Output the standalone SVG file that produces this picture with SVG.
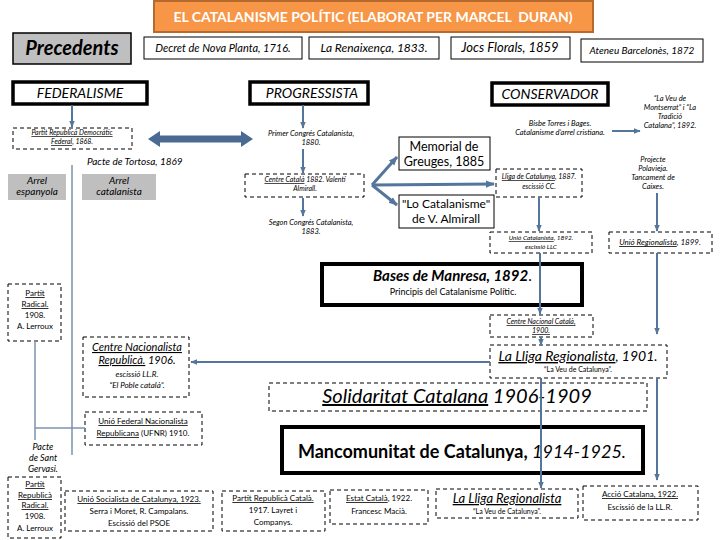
<svg xmlns="http://www.w3.org/2000/svg" width="720" height="540" viewBox="0 0 720 540">
<style>
text{font-family:Lato,"Liberation Sans",sans-serif;fill:#000}
.it{font-style:italic}
.b{font-weight:bold}
.u{text-decoration:underline}
.m{text-anchor:middle}
.box{fill:#fff;stroke:#000;stroke-width:1}
.dash{fill:#fff;stroke:#000;stroke-width:1;stroke-dasharray:4 3}
.thick{fill:#fff;stroke:#000;stroke-width:4}
.gray{fill:#BFBFBF}
.conn{stroke:#55769C;stroke-width:2;fill:none}
.fan{stroke:#55769C;stroke-width:3;fill:none}
.t8{font-size:8px}
.t75{font-size:7.5px}
.t7{font-size:7px}
</style>
<defs>
<marker id="ah" viewBox="0 0 10 10" refX="9" refY="5" markerWidth="7" markerHeight="7" markerUnits="userSpaceOnUse" orient="auto"><path d="M0,1 L10,5 L0,9 z" fill="#55769C"/></marker>
<marker id="ah2" viewBox="0 0 10 10" refX="9" refY="5" markerWidth="9" markerHeight="9" markerUnits="userSpaceOnUse" orient="auto"><path d="M0,1 L10,5 L0,9 z" fill="#55769C"/></marker>
</defs>

<g id="title"><rect x="154" y="1" width="439" height="31" fill="#F79646" stroke="#B66A2E" stroke-width="2"/><text x="373" y="22" font-size="14" class="b m" style="fill:#fff">EL CATALANISME POLÍTIC (ELABORAT PER MARCEL&#160; DURAN)</text></g>
<g id="precedents"><rect x="13" y="33" width="118" height="31" fill="#BFBFBF" stroke="#000" stroke-width="1.5"/><text x="72" y="55" font-size="20" class="b it m">Precedents</text></g>
<g id="decret"><rect class="box" x="144" y="37" width="158" height="22"/><text x="223" y="52" font-size="11" class="it m">Decret de Nova Planta, 1716.</text></g>
<g id="renaixenca"><rect class="box" x="309" y="37" width="130" height="22"/><text x="374" y="52" font-size="12" class="it m">La Renaixença, 1833.</text></g>
<g id="jocs"><rect class="box" x="451" y="37" width="119" height="22"/><text x="510" y="52" font-size="13" class="it m">Jocs Florals, 1859</text></g>
<g id="ateneu"><rect class="box" x="581" y="39" width="122" height="23"/><text x="642" y="54" font-size="10" class="it m">Ateneu Barcelonès, 1872</text></g>

<g id="federalisme"><rect class="thick" x="13" y="82" width="134" height="22" style="stroke-width:3.5"/><text x="80" y="98" font-size="14" class="it m">FEDERALISME</text></g>
<g id="progressista"><rect class="thick" x="250" y="82" width="118" height="22" style="stroke-width:3.5"/><text x="312" y="98" font-size="14" class="it m">PROGRESSISTA</text></g>
<g id="conservador"><rect class="thick" x="492" y="83" width="116" height="22" style="stroke-width:3.5"/><text x="550" y="99" font-size="14" class="it m">CONSERVADOR</text></g>

<g id="prdf"><rect class="dash" x="13" y="128" width="119" height="21"/><text x="72" y="135" class="t7 it m"><tspan class="u">Partit Republicà Democràtic</tspan><tspan x="72" dy="9"><tspan class="u">Federal</tspan>, 1868.</tspan></text></g>
<g id="primer"><text x="311" y="136" class="t75 it m">Primer Congrés Catalanista,<tspan x="311" dy="9">1880.</tspan></text></g>
<g id="tortosa"><text x="87" y="165" font-size="10" class="it">Pacte de Tortosa, 1869</text></g>
<g id="espanyola"><rect class="gray" x="8" y="174" width="58" height="26"/><text x="37" y="184" font-size="10" class="it m">Arrel<tspan x="37" dy="11">espanyola</tspan></text></g>
<g id="catalanista"><rect class="gray" x="82" y="174" width="74" height="26"/><text x="119" y="184" font-size="10" class="it m">Arrel<tspan x="119" dy="11">catalanista</tspan></text></g>
<g id="centrecatala"><rect class="dash" x="245" y="174" width="119" height="23"/><text x="305" y="182" class="t7 it m"><tspan class="u">Centre Català</tspan> 1882. Valentí<tspan x="305" dy="9">Almirall.</tspan></text></g>
<g id="segon"><text x="311" y="225" class="t75 it m">Segon Congrés Catalanista,<tspan x="311" dy="9">1883.</tspan></text></g>
<g id="memorial"><rect class="box" x="399" y="137" width="91" height="33"/><text x="444" y="151" font-size="12.5" class="m">Memorial de<tspan x="444" dy="15">Greuges, 1885</tspan></text></g>
<g id="locatalanisme"><rect class="box" x="399" y="195" width="95" height="33"/><text x="446" y="208" font-size="12" class="m">"Lo Catalanisme"<tspan x="446" dy="14.5">de V. Almirall</tspan></text></g>
<g id="lligacat"><rect class="dash" x="496" y="169" width="86" height="28"/><text x="539" y="179" class="t7 it m"><tspan class="u">Lliga de Catalunya</tspan>, 1887.<tspan x="539" dy="10">escissió CC.</tspan></text></g>
<g id="bisbe"><text x="560" y="126" class="t75 it m">Bisbe Torres i Bages.<tspan x="560" dy="9">Catalanisme d’arrel cristiana.</tspan></text></g>
<g id="laveu"><text x="670" y="101" class="t75 it m">“La Veu de<tspan x="670" dy="9">Montserrat” i “La</tspan><tspan x="670" dy="9">Tradició</tspan><tspan x="670" dy="9">Catalana”, 1892.</tspan></text></g>
<g id="projecte"><text x="653" y="162" class="t75 it m">Projecte<tspan x="653" dy="9">Polavieja.</tspan><tspan x="653" dy="9">Tancament de</tspan><tspan x="653" dy="9">Caixes.</tspan></text></g>
<g id="uniocatalanista"><rect class="dash" x="490" y="232" width="102" height="21"/><text x="541" y="240" font-size="6.5" class="it m"><tspan class="u">Unió Catalanista</tspan>, 1892.<tspan x="541" dy="9">escissió LLC</tspan></text></g>
<g id="unioregionalista"><rect class="dash" x="609" y="232" width="103" height="21"/><text x="660" y="245" class="t8 it m"><tspan class="u">Unió Regionalista</tspan>, 1899.</text></g>
<g id="bases"><rect class="thick" x="322" y="264" width="260" height="41"/><text x="373" y="281" font-size="15"><tspan class="b it">Bases de Manresa, 1892</tspan>.</text><text x="453" y="295" font-size="9" class="m">Principis del Catalanisme Polític.</text></g>
<g id="radical1"><rect class="dash" x="8" y="284" width="53" height="57"/><text x="35" y="296" class="t8 m"><tspan class="u">Partit</tspan><tspan x="35" dy="11" class="u">Radical.</tspan><tspan x="35" dy="11">1908.</tspan><tspan x="35" dy="11">A. Lerroux</tspan></text></g>
<g id="centrenacional"><rect class="dash" x="490" y="315" width="103" height="22"/><text x="541" y="324" class="t7 it m"><tspan class="u">Centre Nacional Català,</tspan><tspan x="541" dy="9" class="u">1900.</tspan></text></g>
<g id="cnr"><rect class="dash" x="83" y="337" width="106" height="60"/><text x="137" y="351" font-size="11" class="it m"><tspan class="u">Centre Nacionalista</tspan><tspan x="137" dy="13"><tspan class="u">Republicà.</tspan> 1906.</tspan></text><text x="137" y="377" class="t8 it m">escissió LL.R.<tspan x="137" dy="11">“El Poble català”.</tspan></text></g>
<g id="lliga1901"><rect class="dash" x="490" y="345" width="177" height="33"/><text x="578" y="361" font-size="14" class="it m"><tspan class="u">La Lliga Regionalista</tspan>, 1901.</text><text x="578" y="372" class="t7 m">“La Veu de Catalunya”.</text></g>
<g id="solidaritat"><rect class="dash" x="269" y="383" width="378" height="28"/><text x="457" y="403" font-size="20" class="it m"><tspan class="u">Solidaritat Catalana</tspan> 1906-1909</text></g>
<g id="ufnr"><rect class="dash" x="85" y="412" width="117" height="33"/><text x="143" y="424" class="t8 m"><tspan class="u">Unió Federal Nacionalista</tspan><tspan x="143" dy="12"><tspan class="u">Republicana</tspan> (UFNR) 1910.</tspan></text></g>
<g id="santgervasi"><text x="43" y="450" font-size="9" class="it m">Pacte<tspan x="43" dy="11">de Sant</tspan><tspan x="43" dy="11">Gervasi.</tspan></text></g>
<g id="mancomunitat"><rect class="thick" x="282" y="427" width="361" height="46"/><text x="462" y="458" font-size="18" class="m"><tspan class="b">Mancomunitat de Catalunya, </tspan><tspan class="it">1914-1925.</tspan></text></g>
<g id="radical2"><rect class="dash" x="8" y="477" width="53" height="61"/><text x="35" y="487" class="t8 m"><tspan class="u">Partit</tspan><tspan x="35" dy="11" class="u">Republicà</tspan><tspan x="35" dy="10" class="u">Radical.</tspan><tspan x="35" dy="11">1908.</tspan><tspan x="35" dy="12">A. Lerroux</tspan></text></g>
<g id="usc"><rect class="dash" x="65" y="491" width="148" height="40"/><text x="139" y="502" class="t8 m"><tspan class="u">Unió Socialista de Catalunya, 1923.</tspan><tspan x="139" dy="12">Serra i Moret, R. Campalans.</tspan><tspan x="139" dy="12">Escissió del PSOE</tspan></text></g>
<g id="prc"><rect class="dash" x="222" y="491" width="103" height="40"/><text x="273" y="501" class="t8 m"><tspan class="u">Partit Republicà Català.</tspan><tspan x="273" dy="12">1917. Layret i</tspan><tspan x="273" dy="12">Companys.</tspan></text></g>
<g id="estat"><rect class="dash" x="330" y="490" width="98" height="34"/><text x="379" y="501" class="t8 m"><tspan class="u">Estat Català</tspan>, 1922.<tspan x="379" dy="13">Francesc Macià.</tspan></text></g>
<g id="lligabottom"><rect class="dash" x="436" y="489" width="142" height="29"/><text x="507" y="503" font-size="13" class="it m u">La Lliga Regionalista</text><text x="507" y="514" class="t7 m">“La Veu de Catalunya”.</text></g>
<g id="accio"><rect class="dash" x="583" y="486" width="115" height="34"/><text x="640" y="497" class="t8 m"><tspan class="u">Acció Catalana, 1922.</tspan><tspan x="640" dy="13">Escissió de la LL.R.</tspan></text></g>

<g id="connectors">
<path class="conn" d="M72,105 V127" marker-end="url(#ah)"/>
<path class="conn" d="M303,105 V128" marker-end="url(#ah)"/>
<path class="conn" d="M303,149 V173" marker-end="url(#ah)"/>
<path class="conn" d="M303,198 V216" marker-end="url(#ah)"/>
<path d="M148,139 L160,131 V135.5 H241 V131 L253,139 L241,147 V142.5 H160 V147 Z" fill="#4A6A91"/>
<path class="fan" d="M372,185 L397,157" marker-end="url(#ah2)"/>
<path class="fan" d="M372,185 L494,184" marker-end="url(#ah2)"/>
<path class="fan" d="M372,185 L397,205" marker-end="url(#ah2)"/>
<path class="conn" d="M612,131 H640" marker-end="url(#ah)"/>
<path class="conn" d="M657,193 V231" marker-end="url(#ah)"/>
<path class="conn" d="M539,197 V231" marker-end="url(#ah)"/>
<path class="conn" d="M540,253 V314" marker-end="url(#ah)"/>
<path class="conn" d="M657,253 V334" marker-end="url(#ah)"/>
<path class="conn" d="M541,337 V345" marker-end="url(#ah)"/>
<path class="conn" d="M490,362 H191" marker-end="url(#ah)"/>
<path class="conn" d="M541,378 V488" marker-end="url(#ah)"/>
<path class="conn" d="M657,378 V480" marker-end="url(#ah)"/>
<path d="M72,165 V455" stroke="#7D93AE" stroke-width="1.5" fill="none"/>
<path d="M35,341 V440 M35,428 H85" stroke="#7D93AE" stroke-width="1.5" fill="none"/>
</g>
</svg>
